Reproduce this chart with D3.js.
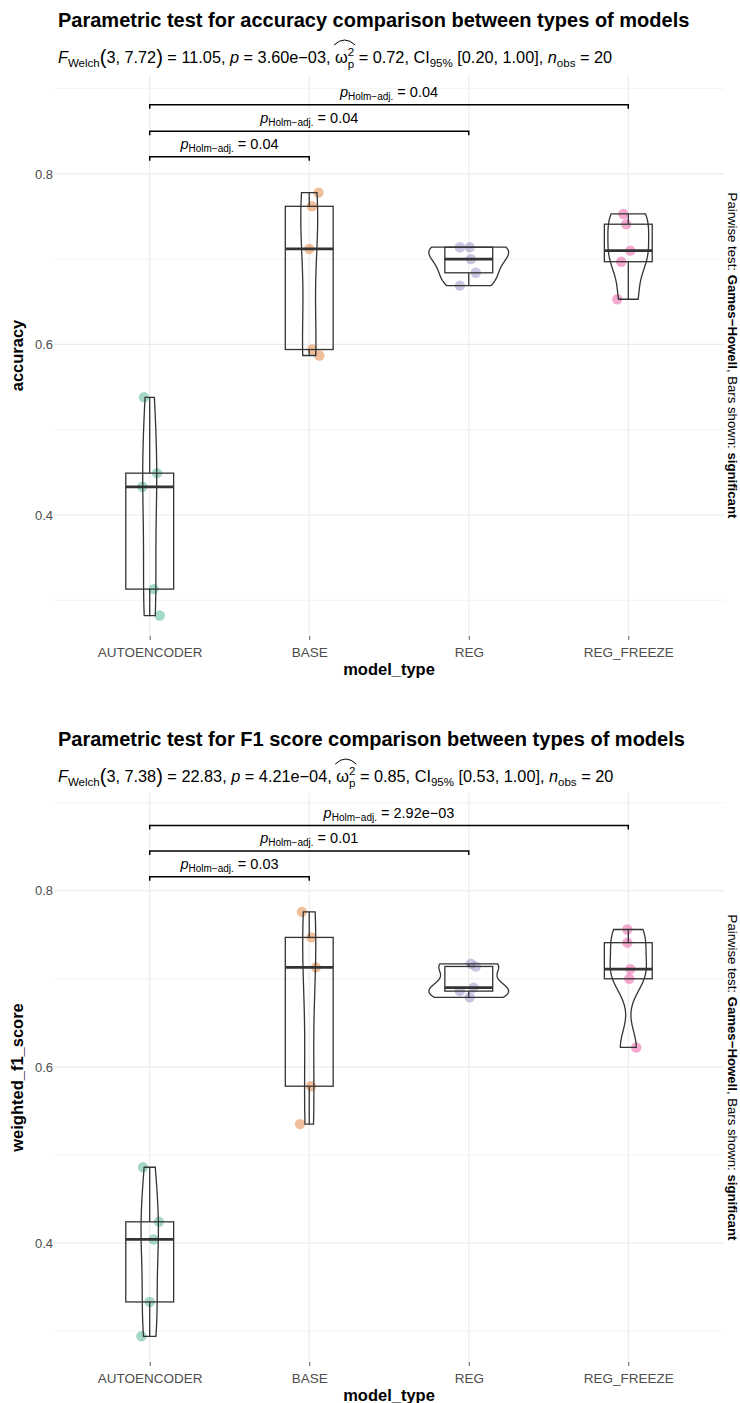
<!DOCTYPE html>
<html><head><meta charset="utf-8">
<script src="https://cdn.jsdelivr.net/npm/d3@7"></script>
<style>
body{margin:0;background:#fff}
svg{display:block}
text{font-family:"Liberation Sans",Arial,Helvetica,sans-serif;white-space:pre}
</style>
</head><body>
<svg id="chart" width="740" height="1403"></svg>
<script>
// ---------- data ----------
const categories = ["AUTOENCODER", "BASE", "REG", "REG_FREEZE"];
const groupColors = ["#1B9E77", "#D95F02", "#7570B3", "#E7298A"];
const yTickValues = [0.4, 0.6, 0.8];
const yMinorValues = [0.3, 0.5, 0.7, 0.9];

// accuracy panel
const accAutoencoder = [0.538, 0.449, 0.433, 0.313, 0.282];
const accBase        = [0.778, 0.762, 0.712, 0.594, 0.587];
const accReg         = [0.714, 0.714, 0.700, 0.684, 0.669];
const accRegFreeze   = [0.753, 0.741, 0.710, 0.697, 0.653];
const accJitter = [
  [-0.036, 0.046, -0.046, 0.025, 0.063],
  [0.058, 0.017, 0.000, 0.019, 0.063],
  [-0.056, 0.006, 0.013, 0.044, -0.056],
  [-0.031, -0.013, 0.013, -0.044, -0.069]
];
const accPairs   = [["AUTOENCODER", "REG_FREEZE"], ["AUTOENCODER", "REG"], ["AUTOENCODER", "BASE"]];
const accPLabels = ["0.04", "0.04", "0.04"];
const accBracketLevels = [0.881, 0.850, 0.820];

// F1 panel
const f1Autoencoder = [0.486, 0.424, 0.404, 0.333, 0.294];
const f1Base        = [0.776, 0.747, 0.713, 0.578, 0.535];
const f1Reg         = [0.717, 0.714, 0.690, 0.686, 0.679];
const f1RegFreeze   = [0.756, 0.741, 0.711, 0.700, 0.622];
const f1Jitter = [
  [-0.042, 0.058, 0.025, 0.000, -0.052],
  [-0.046, 0.014, 0.042, 0.011, -0.058],
  [0.013, 0.044, 0.031, -0.056, 0.006],
  [-0.006, -0.006, 0.013, 0.006, 0.050]
];
const f1Pairs   = [["AUTOENCODER", "REG_FREEZE"], ["AUTOENCODER", "REG"], ["AUTOENCODER", "BASE"]];
const f1PLabels = ["2.92e\u221203", "0.01", "0.03"];
const f1BracketLevels = [0.874, 0.845, 0.816];

const titles = [
  "Parametric test for accuracy comparison between types of models",
  "Parametric test for F1 score comparison between types of models"
];
const statsText = [
  {df: "3, 7.72", F: "11.05", p: "3.60e\u221203", es: "0.72", ci: "[0.20, 1.00]", n: "20"},
  {df: "3, 7.38", F: "22.83", p: "4.21e\u221204", es: "0.85", ci: "[0.53, 1.00]", n: "20"}
];
const yTitles = ["accuracy", "weighted_f1_score"];
const xTitle = "model_type";

// ---------- helpers ----------
const svg = d3.select("#chart");
const FONT = '"Liberation Sans",Arial,Helvetica,sans-serif';

function rich(parent, x, y, pieces, align) {
  const g = parent.append("g");
  let cx = 0;
  const pos = [];
  pieces.forEach(p => {
    const t = g.append("text")
      .attr("x", cx).attr("y", p.dy || 0)
      .attr("font-size", p.size)
      .attr("fill", p.fill || "#000")
      .attr("font-style", p.italic ? "italic" : null)
      .attr("font-weight", p.bold ? "bold" : null)
      .text(p.t);
    const w = t.node().getComputedTextLength();
    pos.push({x: cx, w});
    if (!p.noAdvance) cx += w + (p.gap || 0);
  });
  const shift = align === "middle" ? -cx / 2 : 0;
  g.attr("transform", `translate(${x + shift},${y})`);
  return {g, pos, width: cx};
}

function nrd0(v) {
  const s = v.slice().sort(d3.ascending);
  const sd = d3.deviation(s);
  const iqr = d3.quantileSorted(s, 0.75) - d3.quantileSorted(s, 0.25);
  let lo = Math.min(sd, iqr / 1.34);
  if (!(lo > 0)) lo = sd || Math.abs(s[0]) || 1;
  return 0.9 * lo * Math.pow(s.length, -0.2);
}
function densityCurve(v) {
  const bw = nrd0(v);
  const [mn, mx] = d3.extent(v);
  const n = 512;
  const pts = [];
  for (let i = 0; i < n; i++) {
    const y = mn + (mx - mn) * i / (n - 1);
    let d = 0;
    v.forEach(x => { const z = (y - x) / bw; d += Math.exp(-0.5 * z * z); });
    d /= (v.length * bw * Math.sqrt(2 * Math.PI));
    pts.push([y, d]);
  }
  return pts;
}

function drawPanel(cfg) {
  const g = svg.append("g");
  const x = d3.scalePoint().domain(categories).range([54, 724]).padding(0.6);
  const step = x.step();
  const y = d3.scaleLinear().domain(cfg.yDomain).range([cfg.bottom, cfg.top]);
  const left = 54, right = 724;
  const LW = 1.3;

  // grid
  g.selectAll(".minor").data(yMinorValues).join("line")
    .attr("x1", left).attr("x2", right)
    .attr("y1", d => y(d)).attr("y2", d => y(d))
    .attr("stroke", "#EBEBEB").attr("stroke-width", 0.6);
  g.selectAll(".major").data(yTickValues).join("line")
    .attr("x1", left).attr("x2", right)
    .attr("y1", d => y(d)).attr("y2", d => y(d))
    .attr("stroke", "#EBEBEB").attr("stroke-width", 1.1);
  g.selectAll(".vg").data(categories).join("line")
    .attr("x1", d => x(d)).attr("x2", d => x(d))
    .attr("y1", cfg.top).attr("y2", cfg.bottom)
    .attr("stroke", "#EBEBEB").attr("stroke-width", 1.1);

  // axes
  const xa = g.append("g").attr("transform", `translate(0,${cfg.bottom})`)
    .call(d3.axisBottom(x).tickSize(4).tickPadding(7));
  xa.select(".domain").remove();
  xa.selectAll("line").attr("stroke", "#333333").attr("stroke-width", 0.8);
  xa.selectAll("text").attr("font-size", 13.5).attr("fill", "#4D4D4D").attr("font-family", FONT);

  const ya = g.append("g").attr("transform", `translate(${left},0)`)
    .call(d3.axisLeft(y).tickValues(yTickValues).tickFormat(d3.format(".1f")).tickSize(0).tickPadding(1));
  ya.select(".domain").remove();
  ya.selectAll("text").attr("font-size", 13).attr("fill", "#4D4D4D").attr("font-family", FONT);

  // violins prep (scale = area: common max density)
  const dens = cfg.groups.map(densityCurve);
  const maxD = d3.max(dens, c => d3.max(c, p => p[1]));

  // points
  cfg.groups.forEach((vals, gi) => {
    g.selectAll(null).data(vals).join("circle")
      .attr("cx", (d, i) => x(categories[gi]) + cfg.jitter[gi][i] * step)
      .attr("cy", d => y(d))
      .attr("r", 5.2)
      .attr("fill", groupColors[gi]).attr("fill-opacity", 0.4);
  });

  // boxplots
  cfg.groups.forEach((vals, gi) => {
    const s = vals.slice().sort(d3.ascending);
    const q1 = d3.quantileSorted(s, 0.25), q2 = d3.quantileSorted(s, 0.5), q3 = d3.quantileSorted(s, 0.75);
    const iqr = q3 - q1;
    const lo = d3.min(s.filter(v => v >= q1 - 1.5 * iqr));
    const hi = d3.max(s.filter(v => v <= q3 + 1.5 * iqr));
    const cx = x(categories[gi]);
    const hw = 0.15 * step;
    const bg = g.append("g").attr("stroke", "#333333").attr("fill", "none");
    bg.append("line").attr("x1", cx).attr("x2", cx).attr("y1", y(q3)).attr("y2", y(hi)).attr("stroke-width", LW);
    bg.append("line").attr("x1", cx).attr("x2", cx).attr("y1", y(q1)).attr("y2", y(lo)).attr("stroke-width", LW);
    bg.append("rect").attr("x", cx - hw).attr("width", 2 * hw)
      .attr("y", y(q3)).attr("height", y(q1) - y(q3)).attr("stroke-width", LW);
    bg.append("line").attr("x1", cx - hw).attr("x2", cx + hw).attr("y1", y(q2)).attr("y2", y(q2)).attr("stroke-width", 2.8);
  });

  // violins
  dens.forEach((curve, gi) => {
    const cx = x(categories[gi]);
    const hwMax = 0.25 * step;
    const rightSide = curve.map(([v, d]) => [cx + d / maxD * hwMax, y(v)]);
    const leftSide = curve.slice().reverse().map(([v, d]) => [cx - d / maxD * hwMax, y(v)]);
    g.append("path")
      .attr("d", d3.line()(rightSide.concat(leftSide)) + "Z")
      .attr("fill", "none").attr("stroke", "#333333").attr("stroke-width", LW);
  });

  // brackets
  cfg.pairs.forEach((pr, i) => {
    const x1 = x(pr[0]), x2 = x(pr[1]);
    const yy = y(cfg.levels[i]);
    g.append("path")
      .attr("d", `M${x1},${yy + 4}V${yy}H${x2}V${yy + 4}`)
      .attr("fill", "none").attr("stroke", "#000").attr("stroke-width", 1.5);
    rich(g, (x1 + x2) / 2, yy - 8, [
      {t: "p", size: 14.5, italic: true},
      {t: "Holm\u2212adj.", size: 10, dy: 3},
      {t: " = " + cfg.pLabels[i], size: 14.5}
    ], "middle");
  });

  // titles
  svg.append("text").attr("x", 58).attr("y", cfg.titleY)
    .attr("font-size", 20).attr("font-weight", "bold").text(cfg.title);
  const st = cfg.stats;
  const sub = rich(svg, 58, cfg.subY, [
    {t: "F", size: 16.3, italic: true},
    {t: "Welch", size: 11.5, dy: 4},
    {t: "(", size: 20, dy: 1},
    {t: st.df, size: 16.3},
    {t: ")", size: 20, dy: 1},
    {t: " = " + st.F + ", ", size: 16.3},
    {t: "p", size: 16.3, italic: true},
    {t: " = " + st.p + ", ", size: 16.3},
    {t: "\u03C9", size: 16.3},
    {t: "2", size: 11.5, dy: -7, noAdvance: true},
    {t: "p", size: 11.5, dy: 5},
    {t: " = " + st.es + ", CI", size: 16.3},
    {t: "95%", size: 11.5, dy: 4},
    {t: " " + st.ci + ", ", size: 16.3},
    {t: "n", size: 16.3, italic: true},
    {t: "obs", size: 11.5, dy: 4},
    {t: " = " + st.n, size: 16.3}
  ], "start");
  const om = sub.pos[8], two = sub.pos[9];
  const hx0 = 58 + om.x - 1, hx1 = 58 + two.x + two.w + 1;
  const hy = cfg.subY - 18;
  svg.append("path")
    .attr("d", `M${hx0},${hy}Q${(hx0 + hx1) / 2},${hy - 10} ${hx1},${hy}`)
    .attr("fill", "none").attr("stroke", "#000").attr("stroke-width", 1);

  // axis titles
  svg.append("text").attr("x", (left + right) / 2).attr("y", cfg.xTitleY)
    .attr("text-anchor", "middle").attr("font-size", 16.5).attr("font-weight", "bold").text(xTitle);
  svg.append("text").attr("transform", `translate(23,${(cfg.top + cfg.bottom) / 2}) rotate(-90)`)
    .attr("text-anchor", "middle").attr("font-size", 16.5).attr("font-weight", "bold").text(cfg.yTitle);

  // right caption
  const cap = svg.append("text")
    .attr("transform", `translate(728,${(cfg.top + cfg.bottom) / 2}) rotate(90)`)
    .attr("text-anchor", "middle").attr("font-size", 13.2);
  cap.append("tspan").text("Pairwise test: ");
  cap.append("tspan").attr("font-weight", "bold").text("Games\u2212Howell");
  cap.append("tspan").text(", Bars shown: ");
  cap.append("tspan").attr("font-weight", "bold").text("significant");
}

drawPanel({
  top: 75, bottom: 636, yDomain: [0.258, 0.916],
  groups: [accAutoencoder, accBase, accReg, accRegFreeze],
  jitter: accJitter, pairs: accPairs, pLabels: accPLabels, levels: accBracketLevels,
  title: titles[0], titleY: 27, stats: statsText[0], subY: 63, xTitleY: 675, yTitle: yTitles[0]
});
drawPanel({
  top: 793, bottom: 1362, yDomain: [0.2648, 0.911],
  groups: [f1Autoencoder, f1Base, f1Reg, f1RegFreeze],
  jitter: f1Jitter, pairs: f1Pairs, pLabels: f1PLabels, levels: f1BracketLevels,
  title: titles[1], titleY: 746, stats: statsText[1], subY: 782, xTitleY: 1401, yTitle: yTitles[1]
});
</script>
</body></html>
